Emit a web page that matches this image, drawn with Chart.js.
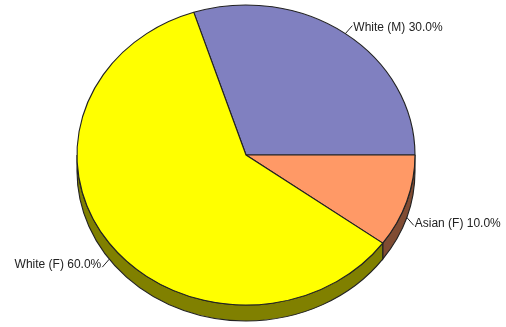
<!DOCTYPE html>
<html>
<head>
<meta charset="utf-8">
<script src="https://cdn.jsdelivr.net/npm/chart.js@4.4.0/dist/chart.umd.min.js"></script>
<style>
  html, body { margin: 0; padding: 0; background: #fff; }
  canvas { display: block; }
</style>
</head>
<body>
<canvas id="pie" width="506" height="327"></canvas>
<script>
const labels = ['White (M)', 'Asian (F)', 'White (F)'];
const shares = [30, 10, 60];

const topColors = ['#8080c0', '#ff9966', '#ffff00'];
const sideColors = ['#404060', '#804c33', '#808000'];

// pie is drawn as a circle of radius 150, then stretched sideways to a 169x150 ellipse
const RX = 169, RY = 150, DEPTH = 16;

function stretch(ctx, a) {
  ctx.translate(a.x, a.y);
  ctx.scale(RX / RY, 1);
  ctx.translate(-a.x, -a.y);
}

const tilt = {
  id: 'tilt',
  beforeDatasetsDraw(chart) {
    const ctx = chart.ctx;
    const arcs = chart.getDatasetMeta(0).data;
    ctx.save();
    stretch(ctx, arcs[0]);
    // front wall, only the lower half of the rim shows
    arcs.forEach((a, i) => {
      [-2 * Math.PI, 0, 2 * Math.PI].forEach(shift => {
        const s = Math.max(a.startAngle + shift, 0);
        const e = Math.min(a.endAngle + shift, Math.PI);
        if (e <= s) return;
        ctx.beginPath();
        ctx.arc(a.x, a.y, a.outerRadius, s, e);
        ctx.arc(a.x, a.y + DEPTH, a.outerRadius, e, s, true);
        ctx.closePath();
        ctx.fillStyle = sideColors[i];
        ctx.fill();
        ctx.lineWidth = 1;
        ctx.strokeStyle = '#222';
        ctx.stroke();
      });
    });
  },
  afterDatasetsDraw(chart) {
    const ctx = chart.ctx;
    ctx.restore();
    const arcs = chart.getDatasetMeta(0).data;
    const total = shares.reduce((p, v) => p + v, 0);
    ctx.save();
    ctx.font = '12px "Liberation Sans", Arial, sans-serif';
    ctx.fillStyle = '#222';
    ctx.strokeStyle = '#222';
    ctx.lineWidth = 1;
    arcs.forEach((a, i) => {
      const mid = (a.startAngle + a.endAngle) / 2;
      const cos = Math.cos(mid), sin = Math.sin(mid);
      const r = a.outerRadius;
      const ax = a.x + r * RX / RY * cos;
      const ay = a.y + r * sin + (sin > 0 ? DEPTH : 0);
      const dx = cos >= 0 ? 1 : -1, dy = sin >= 0 ? 1 : -1;
      const ex = ax + dx * 7, ey = ay + dy * 8;
      ctx.beginPath();
      ctx.moveTo(ax, ay);
      ctx.lineTo(ex, ey);
      ctx.stroke();
      ctx.textAlign = dx > 0 ? 'left' : 'right';
      ctx.textBaseline = 'middle';
      const txt = labels[i] + ' ' + (shares[i] / total * 100).toFixed(1) + '%';
      ctx.fillText(txt, ex + dx, ey + (dy < 0 ? 2 : -2));
    });
    ctx.restore();
  }
};

new Chart(document.getElementById('pie'), {
  type: 'pie',
  data: {
    labels: labels,
    datasets: [{
      data: shares,
      backgroundColor: topColors,
      borderColor: '#222',
      borderWidth: 1,
      clip: false
    }]
  },
  options: {
    responsive: false,
    animation: false,
    events: [],
    rotation: -18,
    radius: 150,
    layout: { padding: { left: 76, right: 90, top: 5, bottom: 22 } },
    plugins: {
      legend: { display: false },
      tooltip: { enabled: false }
    }
  },
  plugins: [tilt]
});
</script>
</body>
</html>
